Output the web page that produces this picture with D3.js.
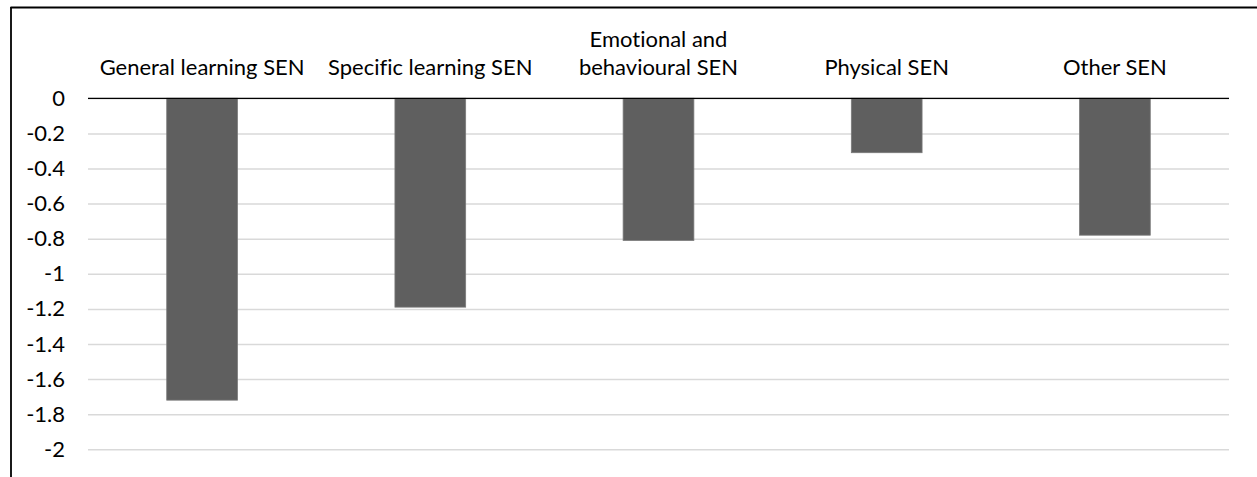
<!DOCTYPE html>
<html><head><meta charset="utf-8">
<script src="https://cdn.jsdelivr.net/npm/d3@7"></script>
<style>body{margin:0;background:#fff}svg{display:block}text{font-variant-ligatures:none;font-feature-settings:"liga" 0,"dlig" 0}</style>
</head><body>
<svg id="c" width="1257" height="477"></svg>
<script>
const categories = [["General learning SEN"], ["Specific learning SEN"], ["Emotional and", "behavioural SEN"], ["Physical SEN"], ["Other SEN"]];
const values = [-1.72, -1.19, -0.81, -0.31, -0.78];
const yTicks = [0, -0.2, -0.4, -0.6, -0.8, -1, -1.2, -1.4, -1.6, -1.8, -2];

const svg = d3.select("#c");
const W = 1257, H = 477;
const font = "Lato, 'Open Sans', sans-serif";
const plot = {left: 88, right: 1229, top: 98.3, bottom: 449.3};

// fit font size so "General learning SEN" ≈ 205px wide
const probe = svg.append("text").attr("font-family", font).attr("font-size", 20).text("General learning SEN");
const w20 = probe.node().getComputedTextLength();
probe.remove();
const fs = 20 * 205 / w20;

const x = d3.scaleBand().domain(categories.map((d, i) => i)).range([plot.left, plot.right]).paddingInner(0.69).paddingOuter(0.345);
const y = d3.scaleLinear().domain([0, -2]).range([plot.top, plot.bottom]);

// border
svg.append("line").attr("x1", 10.5).attr("x2", W).attr("y1", 7.5).attr("y2", 7.5).attr("stroke", "#000").attr("stroke-width", 1.8);
svg.append("line").attr("x1", 11).attr("x2", 11).attr("y1", 7).attr("y2", H).attr("stroke", "#000").attr("stroke-width", 1.8);

// gridlines + y labels
const yAxis = d3.axisLeft(y).tickValues(yTicks).tickSize(-(plot.right - plot.left)).tickPadding(23).tickFormat(d => String(d));
const ga = svg.append("g").attr("transform", `translate(${plot.left},0)`).call(yAxis);
ga.select(".domain").remove();
ga.selectAll(".tick line").attr("stroke", "#d9d9d9").attr("stroke-width", 1.5);
ga.selectAll(".tick text").attr("font-family", font).attr("font-size", fs).attr("fill", "#000").attr("text-anchor", "end");

// bars
svg.append("g").selectAll("rect").data(values).join("rect")
  .attr("x", (d, i) => x(i))
  .attr("width", x.bandwidth())
  .attr("y", d => y(0))
  .attr("height", d => y(d) - y(0))
  .attr("fill", "#5f5f5f")
  .attr("stroke", "#7a7a7a").attr("stroke-width", 0.8);

// zero line
svg.append("line").attr("x1", plot.left).attr("x2", plot.right).attr("y1", y(0)).attr("y2", y(0)).attr("stroke", "#000").attr("stroke-width", 1.3);

// category labels
const lab = svg.append("g").selectAll("text").data(categories).join("text")
  .attr("font-family", font).attr("font-size", fs).attr("fill", "#000").attr("text-anchor", "middle")
  .attr("x", (d, i) => x(i) + x.bandwidth() / 2);
lab.each(function(d) {
  const t = d3.select(this);
  const n = d.length;
  d.forEach((line, j) => {
    t.append("tspan").attr("x", t.attr("x")).attr("y", 74.5 - (n - 1 - j) * 28).text(line);
  });
});
</script>
</body></html>
